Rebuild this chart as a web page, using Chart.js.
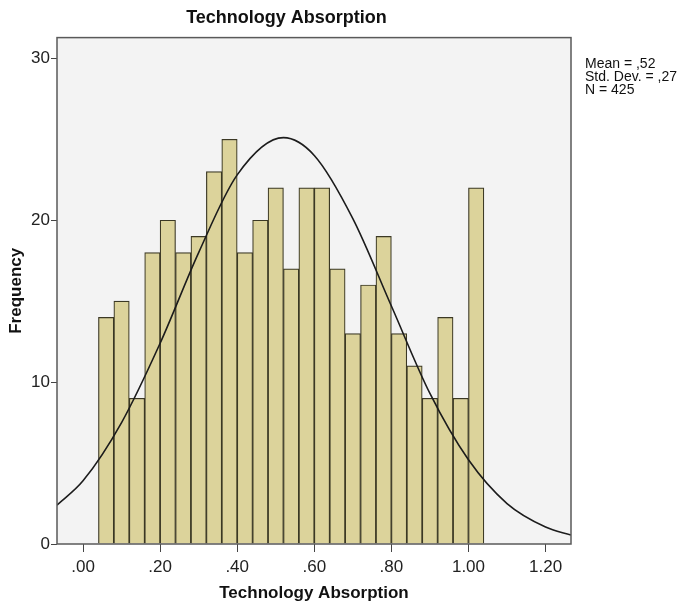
<!DOCTYPE html>
<html>
<head>
<meta charset="utf-8">
<title>Technology Absorption</title>
<script src="https://cdn.jsdelivr.net/npm/chart.js@4.4.1/dist/chart.umd.min.js"></script>
<style>
  html, body { margin: 0; padding: 0; background: #fff; }
  #wrap { width: 687px; height: 606px; }
</style>
</head>
<body>
<div id="wrap"><canvas id="histChart" width="687" height="606"></canvas></div>
<script>
// centros de cada barra (ancho de clase .04)
const binCenters = [0.06, 0.10, 0.14, 0.18, 0.22, 0.26, 0.30, 0.34, 0.38, 0.42, 0.46, 0.50, 0.54,
                    0.58, 0.62, 0.66, 0.70, 0.74, 0.78, 0.82, 0.86, 0.90, 0.94, 0.98, 1.02];
const frequencies = [14, 15, 9, 18, 20, 18, 19, 23, 25, 18, 20, 22, 17,
                     22, 22, 17, 13, 16, 19, 13, 11, 9, 14, 9, 22];

const curveX = [-0.0675, 0.00, 0.10, 0.20, 0.30, 0.40, 0.52, 0.60, 0.70, 0.80, 0.90, 1.00, 1.10, 1.20, 1.266];
const curveY = [2.4, 3.9, 7.5, 12.4, 18.0, 22.8, 25.1, 24.0, 20.1, 14.7, 9.3, 5.2, 2.5, 1.05, 0.55];

const xTickValues = [0, 0.2, 0.4, 0.6, 0.8, 1.0, 1.2];
const xTickLabels = [".00", ".20", ".40", ".60", ".80", "1.00", "1.20"];
const yTickValues = [0, 10, 20, 30];

const statLines = ["Mean = ,52", "Std. Dev. = ,27", "N = 425"];

const FONT = "'Liberation Sans', Arial, Helvetica, sans-serif";

// fondo gris del area del grafico
const plotBackground = {
  id: "plotBackground",
  beforeDraw(chart) {
    const { ctx, chartArea: a } = chart;
    ctx.save();
    ctx.fillStyle = "#f3f3f3";
    ctx.fillRect(a.left, a.top, a.right - a.left, a.bottom - a.top);
    ctx.restore();
  }
};

// marco alrededor y texto de estadisticas a la derecha
const frameAndStats = {
  id: "frameAndStats",
  afterDatasetsDraw(chart) {
    const { ctx, chartArea: a } = chart;
    ctx.save();
    ctx.strokeStyle = "#5a5a5a";
    ctx.lineWidth = 1.5;
    ctx.strokeRect(a.left, a.top, a.right - a.left, a.bottom - a.top);
    ctx.restore();
  },
  afterDraw(chart) {
    const { ctx, chartArea: a } = chart;
    ctx.save();
    ctx.fillStyle = "#111";
    ctx.font = "14px " + FONT;
    ctx.textBaseline = "middle";
    statLines.forEach((line, i) => {
      ctx.fillText(line, a.right + 14, 64 + i * 13);
    });
    ctx.restore();
  }
};

new Chart(document.getElementById("histChart").getContext("2d"), {
  type: "bar",
  data: {
    datasets: [
      {
        type: "line",
        data: curveX.map((x, i) => ({ x: x, y: curveY[i] })),
        borderColor: "#1c1c1c",
        borderWidth: 1.6,
        pointRadius: 0,
        fill: false,
        cubicInterpolationMode: "monotone",
        order: 0
      },
      {
        type: "bar",
        data: binCenters.map((x, i) => ({ x: x, y: frequencies[i] })),
        backgroundColor: "#dcd39b",
        borderColor: "#3b3824",
        borderWidth: 1.2,
        barPercentage: 1,
        categoryPercentage: 1,
        order: 1
      }
    ]
  },
  options: {
    responsive: false,
    animation: false,
    devicePixelRatio: 1,
    layout: { padding: { left: 2, right: 116, top: 0, bottom: 0 } },
    plugins: {
      legend: { display: false },
      tooltip: { enabled: false },
      title: {
        display: true,
        text: "Technology Absorption",
        color: "#111",
        font: { family: FONT, size: 18, weight: "bold" },
        padding: { top: 7, bottom: 9 }
      }
    },
    scales: {
      x: {
        type: "linear",
        min: -0.0675,
        max: 1.266,
        offset: false,
        grid: { display: true, drawOnChartArea: false, drawTicks: true, tickLength: 8, color: "#444", offset: false },
        border: { display: false },
        afterBuildTicks: axis => { axis.ticks = xTickValues.map(v => ({ value: v })); },
        afterFit: scale => { scale.height = 62; },
        ticks: {
          color: "#222",
          padding: 5,
          maxRotation: 0,
          font: { family: FONT, size: 17 },
          callback: value => xTickLabels[xTickValues.indexOf(value)] ?? ""
        },
        title: {
          display: true,
          text: "Technology Absorption",
          color: "#111",
          font: { family: FONT, size: 17, weight: "bold" },
          padding: { top: 0, bottom: 2 }
        }
      },
      y: {
        min: 0,
        max: 31.28,
        grid: { display: true, drawOnChartArea: false, drawTicks: true, tickLength: 6, color: "#444" },
        border: { display: false },
        afterBuildTicks: axis => { axis.ticks = yTickValues.map(v => ({ value: v })); },
        afterFit: scale => { scale.width = 55; },
        ticks: {
          color: "#222",
          padding: 1,
          font: { family: FONT, size: 17 }
        },
        title: {
          display: true,
          text: "Frequency",
          color: "#111",
          font: { family: FONT, size: 17, weight: "bold" },
          padding: { top: 4, bottom: 0 }
        }
      }
    }
  },
  plugins: [plotBackground, frameAndStats]
});
</script>
</body>
</html>
